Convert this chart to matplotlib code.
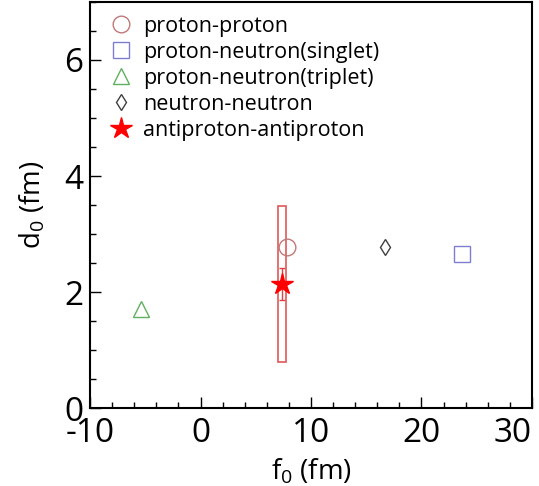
import numpy as np
import matplotlib
matplotlib.use("Agg")
from matplotlib import pyplot as plt
from matplotlib.patches import Rectangle
from matplotlib.ticker import MultipleLocator

plt.rcParams['font.family'] = ['Open Sans', 'DejaVu Sans']
plt.rcParams['mathtext.default'] = 'regular'
plt.rcParams['axes.unicode_minus'] = False

# scattering length f0 and effective range d0 (fm)
names = ["proton-proton", "proton-neutron(singlet)", "proton-neutron(triplet)",
         "neutron-neutron", "antiproton-antiproton"]
f0 = [7.8, 23.7, -5.4, 16.7, 7.41]
d0 = [2.77, 2.65, 1.71, 2.78, 2.14]
markers = ["o", "s", "^", "d", "*"]
colors = ["#c07878", "#7f7fd0", "#5fb05f", "#404040", "#ff0000"]
msizes = [12, 12, 12, 8, 16]
filled = [False, False, False, False, True]

xticks = [-10, 0, 10, 20, 30]
xticklabels = ["-10", "0", "10", "20", "30"]

# antiproton-antiproton uncertainties
f0_stat, f0_sys = 0.19, 0.36
d0_stat, d0_sys = 0.27, 1.34

fig = plt.figure(figsize=(5.39, 4.86), dpi=100)
ax = fig.add_axes([0.167, 0.160, 0.820, 0.836])

# systematic box
ax.add_patch(Rectangle((f0[4] - f0_sys, d0[4] - d0_sys), 2 * f0_sys, 2 * d0_sys,
                       fill=False, edgecolor="#e05858", linewidth=1.2, zorder=2))
ax.errorbar(f0[4], d0[4], xerr=f0_stat, yerr=d0_stat, fmt='none',
            ecolor="#e04040", elinewidth=1.0, capsize=2, zorder=3)

handles = []
for i in range(len(names)):
    h, = ax.plot(f0[i], d0[i], linestyle='none', marker=markers[i],
                 markersize=msizes[i], markeredgecolor=colors[i],
                 markerfacecolor=colors[i] if filled[i] else 'none',
                 markeredgewidth=1.0, zorder=4)
    handles.append(h)

ax.set_xlim(-10, 30)
ax.set_ylim(0, 7)
ax.set_xticks(xticks)
ax.set_xticklabels(xticklabels)
ax.xaxis.set_minor_locator(MultipleLocator(2))
ax.yaxis.set_major_locator(MultipleLocator(2))
ax.yaxis.set_minor_locator(MultipleLocator(0.5))
ax.tick_params(which='both', direction='in', top=False, right=False,
               labelsize=24, width=1.0)
ax.tick_params(axis='x', pad=6)
ax.tick_params(axis='y', pad=5)
ax.tick_params(which='major', length=8)
ax.tick_params(which='minor', length=4)
for s in ax.spines.values():
    s.set_linewidth(1.5)

# keep the last x label inside the figure
ax.get_xticklabels()[-1].set_horizontalalignment('right')

ax.set_xlabel("f$_0$ (fm)", fontsize=20, labelpad=5)
ax.set_ylabel("d$_0$ (fm)", fontsize=20, labelpad=12)

ax.legend(handles, names, loc='upper left', bbox_to_anchor=(0.0, 1.0),
          frameon=False, fontsize=15.5, handletextpad=0.2, labelspacing=0.23,
          borderaxespad=0.25, handlelength=1.6)

fig.savefig("out.png", dpi=100)
